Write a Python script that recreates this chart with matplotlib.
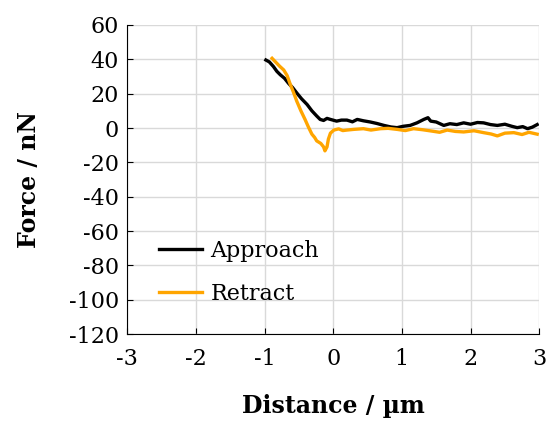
import matplotlib
matplotlib.use("Agg")
import matplotlib.pyplot as plt

plt.rcParams['font.family'] = ['DejaVu Serif']
plt.rcParams['axes.unicode_minus'] = False

## data
approach_x = [-0.98, -0.93, -0.87, -0.82, -0.77, -0.71, -0.65, -0.59, -0.53, -0.46, -0.38, -0.31,
              -0.24, -0.19, -0.14, -0.09, -0.04, 0.05, 0.12, 0.2, 0.28, 0.35, 0.44, 0.54, 0.64,
              0.74, 0.84, 0.93, 1.02, 1.12, 1.22, 1.32, 1.38, 1.42, 1.5, 1.61, 1.7, 1.8, 1.9,
              2.0, 2.1, 2.19, 2.29, 2.39, 2.5, 2.6, 2.68, 2.76, 2.83, 2.9, 2.97]
approach_y = [39.6, 38.5, 35.8, 33.0, 31.0, 29.0, 26.0, 23.5, 20.4, 17.0, 13.7, 10.0,
              7.0, 5.0, 4.4, 5.6, 5.0, 4.0, 4.6, 4.6, 3.6, 5.0, 4.2, 3.5, 2.6,
              1.5, 0.6, 0.2, 1.0, 1.5, 3.0, 5.0, 6.0, 4.0, 3.5, 1.5, 2.5, 2.0, 3.0,
              2.2, 3.2, 3.0, 2.0, 1.5, 2.2, 1.0, 0.2, 0.8, -0.4, 0.5, 2.0]

retract_x = [-0.89, -0.84, -0.78, -0.72, -0.67, -0.63, -0.58, -0.53, -0.47, -0.41, -0.36, -0.31,
             -0.27, -0.24, -0.18, -0.14, -0.12, -0.09, -0.07, -0.04, 0.01, 0.08, 0.14, 0.2,
             0.3, 0.44, 0.55, 0.69, 0.8, 0.93, 1.05, 1.17, 1.3, 1.42, 1.55, 1.66, 1.78, 1.9,
             2.05, 2.19, 2.3, 2.39, 2.5, 2.63, 2.75, 2.85, 2.97]
retract_y = [40.6, 38.5, 36.0, 33.8, 30.5, 26.0, 21.0, 15.6, 10.0, 5.0, 0.5, -3.6,
             -5.5, -7.5, -9.0, -11.0, -13.3, -11.0, -6.5, -3.0, -1.2, -0.5, -1.5, -1.2,
             -0.8, -0.4, -1.2, -0.4, -0.2, -0.8, -1.5, -0.4, -1.0, -1.7, -2.5, -1.2, -2.0, -2.3,
             -1.6, -2.7, -3.5, -4.6, -3.0, -2.7, -3.8, -2.5, -3.6]

x_ticks = [-3, -2, -1, 0, 1, 2, 3]
y_ticks = [60, 40, 20, 0, -20, -40, -60, -80, -100, -120]

fig = plt.figure(figsize=(5.48, 4.28), dpi=100)
ax = fig.add_axes([0.232, 0.2196, 0.752, 0.722])

ax.plot(approach_x, approach_y, color='black', lw=2.4, label='Approach')
ax.plot(retract_x, retract_y, color='#ffa500', lw=2.4, label='Retract')

ax.set_xlim(-3, 3)
ax.set_ylim(-120, 60)
ax.set_xticks(x_ticks)
ax.set_yticks(y_ticks)
ax.grid(True, color='#d9d9d9', lw=1)
ax.set_axisbelow(True)
for s in ['top', 'right']:
    ax.spines[s].set_visible(False)
ax.tick_params(direction='in', length=4, labelsize=16)
ax.tick_params(axis='x', pad=10)
ax.tick_params(axis='y', pad=6)

ax.set_xlabel('Distance / µm', fontsize=17, fontweight='bold', labelpad=17)
ax.set_ylabel('Force / nN', fontsize=17, fontweight='bold', labelpad=20)

ax.legend(loc='center left', bbox_to_anchor=(0.03, 0.2), frameon=False,
          fontsize=16, handlelength=1.9, handletextpad=0.4, labelspacing=0.95)

fig.savefig('out.png', dpi=100)
